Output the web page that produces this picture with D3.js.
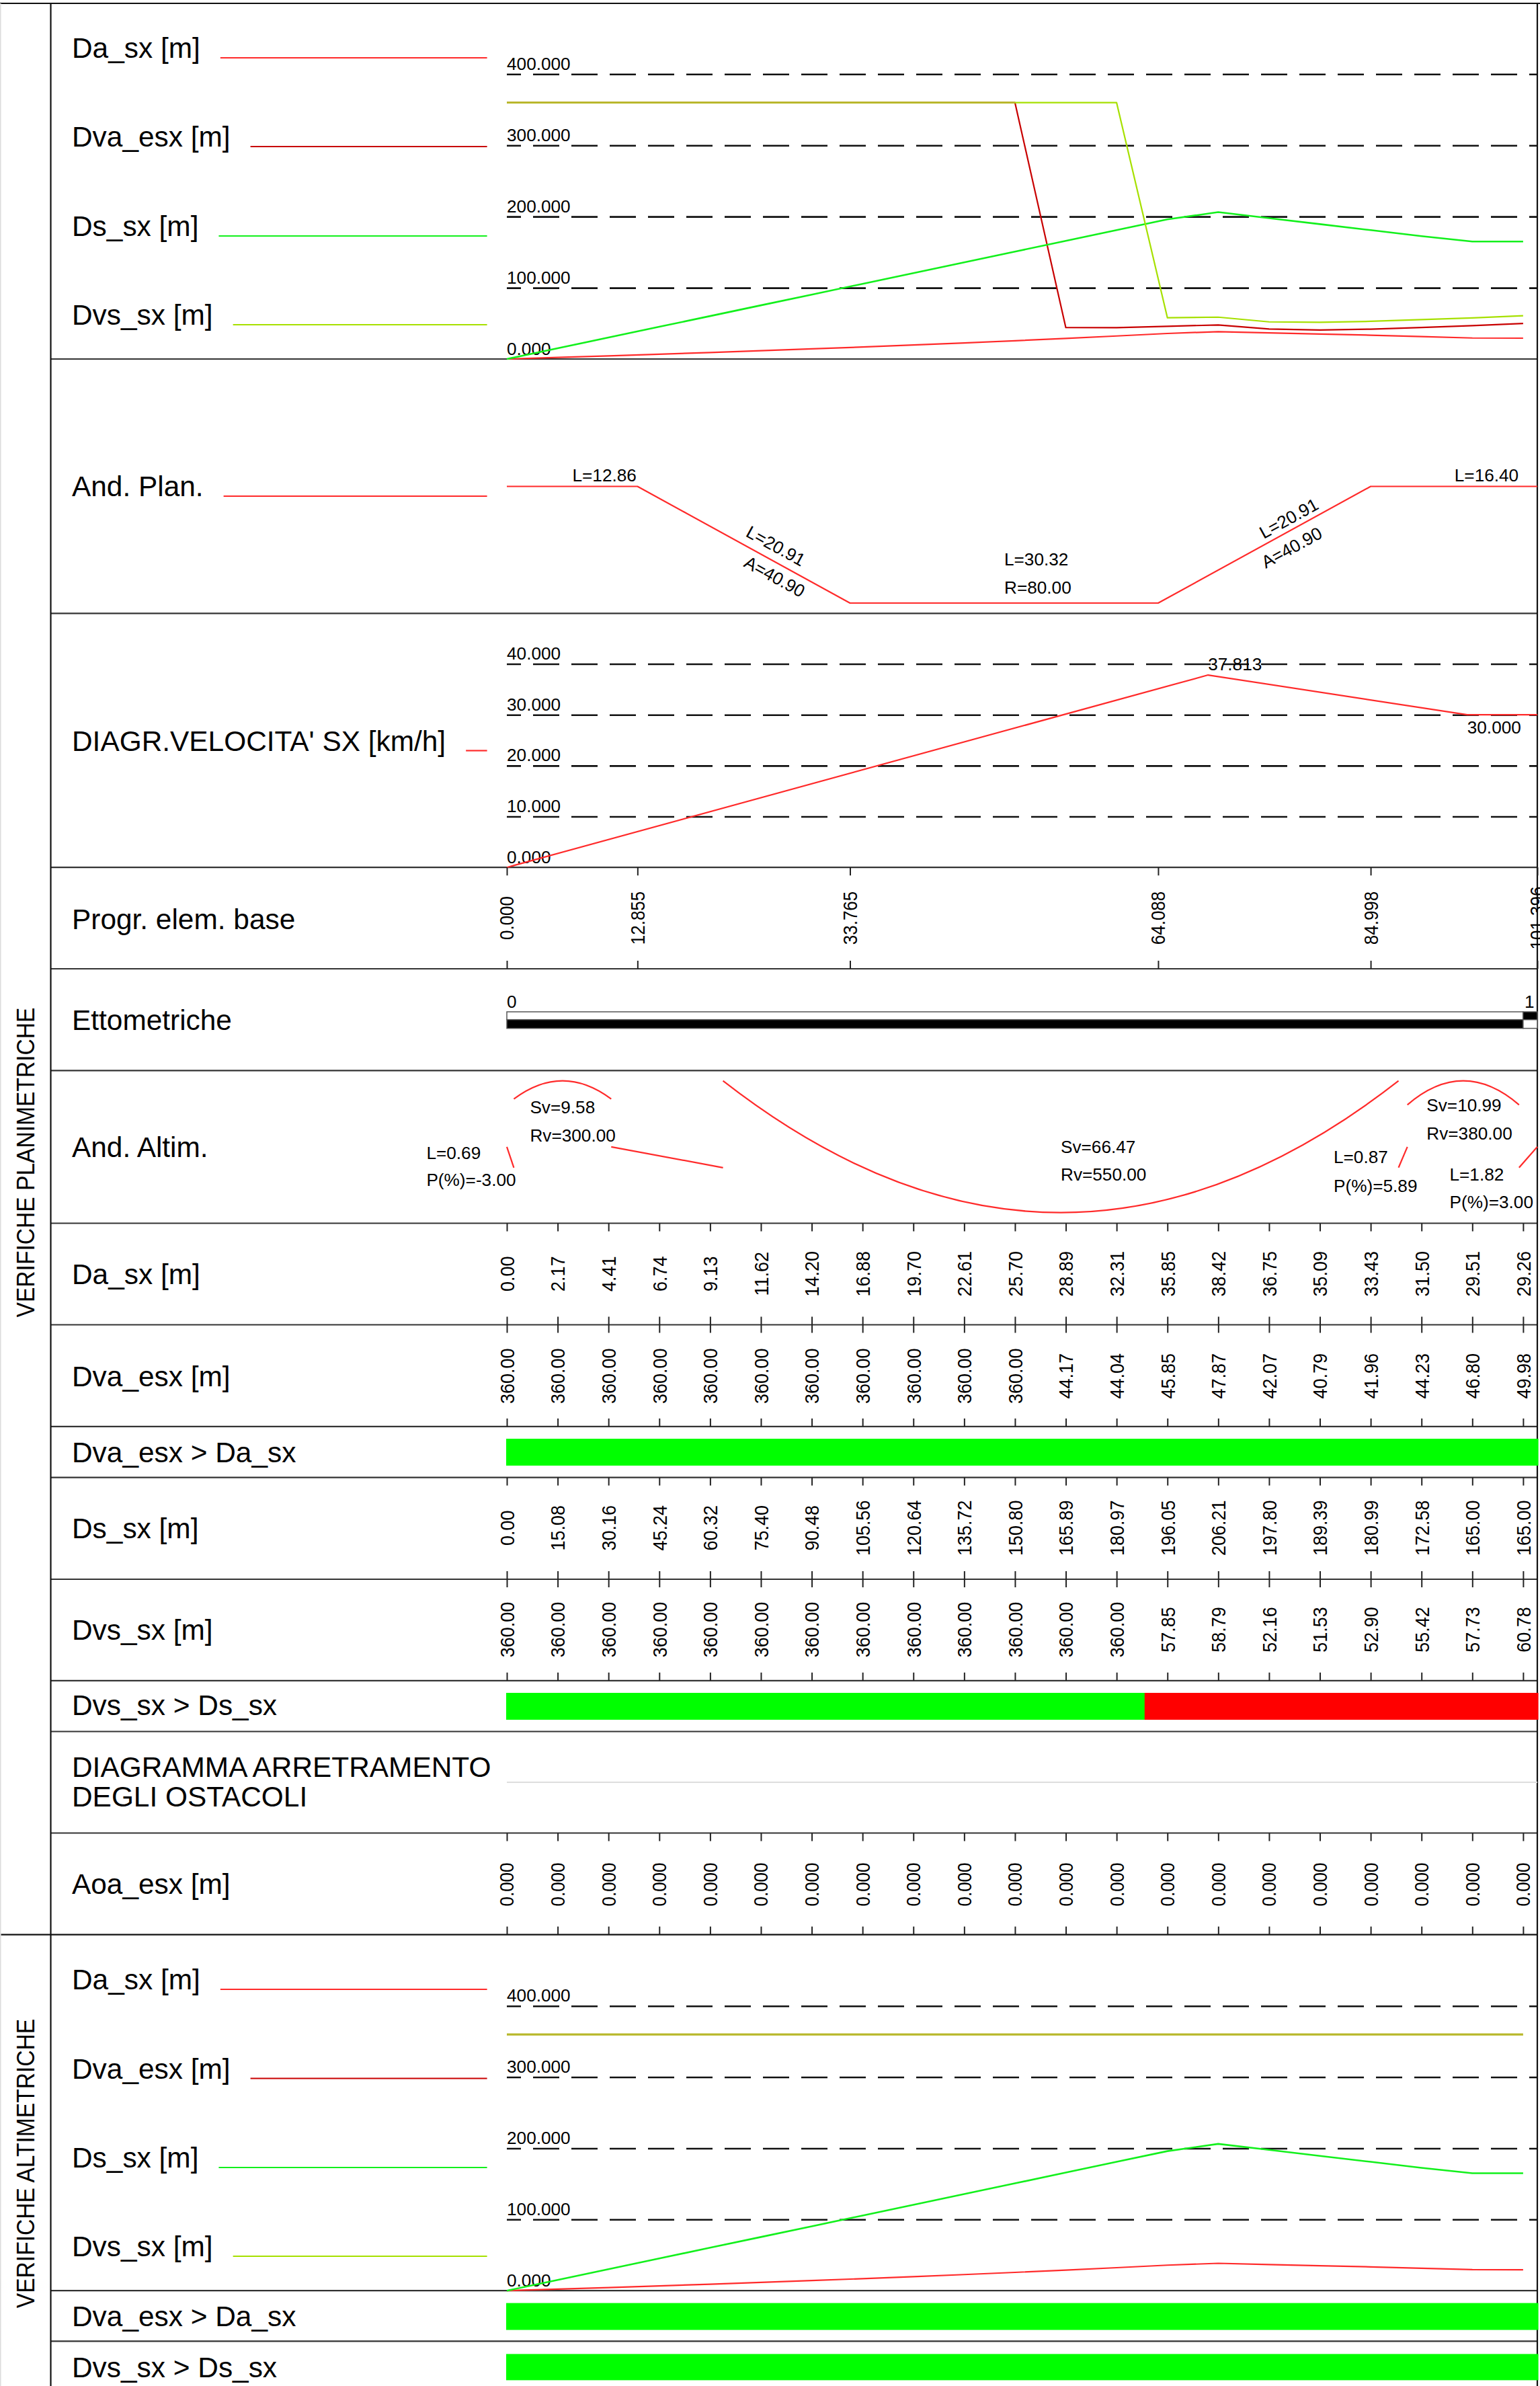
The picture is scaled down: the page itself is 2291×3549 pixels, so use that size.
<!DOCTYPE html>
<html>
<head>
<meta charset="utf-8">
<script src="https://cdn.jsdelivr.net/npm/d3@7"></script>
<style>
  html, body { margin: 0; padding: 0; background: #fff; }
  svg { display: block; }
  text { font-family: "Liberation Sans", Arial, sans-serif; fill: #000; }
</style>
</head>
<body>
<div id="chart"></div>
<script>
// stations sampled every 5 m
const stations = [0, 5, 10, 15, 20, 25, 30, 35, 40, 45, 50, 55, 60, 65, 70, 75, 80, 85, 90, 95, 100];
const daSx = [0.00, 2.17, 4.41, 6.74, 9.13, 11.62, 14.20, 16.88, 19.70, 22.61, 25.70, 28.89, 32.31, 35.85, 38.42, 36.75, 35.09, 33.43, 31.50, 29.51, 29.26];
const dvaEsx = [360, 360, 360, 360, 360, 360, 360, 360, 360, 360, 360, 44.17, 44.04, 45.85, 47.87, 42.07, 40.79, 41.96, 44.23, 46.80, 49.98];
const dsSx = [0.00, 15.08, 30.16, 45.24, 60.32, 75.40, 90.48, 105.56, 120.64, 135.72, 150.80, 165.89, 180.97, 196.05, 206.21, 197.80, 189.39, 180.99, 172.58, 165.00, 165.00];
const dvsSx = [360, 360, 360, 360, 360, 360, 360, 360, 360, 360, 360, 360, 360, 57.85, 58.79, 52.16, 51.53, 52.90, 55.42, 57.73, 60.78];
const aoaEsx = [0, 0, 0, 0, 0, 0, 0, 0, 0, 0, 0, 0, 0, 0, 0, 0, 0, 0, 0, 0, 0];
const altDvaEsx = [360, 360, 360, 360, 360, 360, 360, 360, 360, 360, 360, 360, 360, 360, 360, 360, 360, 360, 360, 360, 360];
const altDvsSx = [360, 360, 360, 360, 360, 360, 360, 360, 360, 360, 360, 360, 360, 360, 360, 360, 360, 360, 360, 360, 360];

const distTicks = [0, 100, 200, 300, 400];
const speedTicks = [0, 10, 20, 30, 40];

// element starts along the axis
const elemBase = [0, 12.855, 33.765, 64.088, 84.998, 101.396];
const planCurv = [0, 0, 12.5, 12.5, 0, 0]; // 1000/R
const speedProg = [0, 69, 94.5, 101.396];
const speedVal = [0, 37.813, 30, 30];
const hectoMarks = [0, 100];

// And. Altim. pieces: [from, to, level at start, level at end], levels 0-100 of the band
const altLines = [
  [0, 0.69, 49.9, 34.1],
  [10.27, 21.27, 49.9, 34.1],
  [87.74, 88.61, 34.1, 49.9],
  [99.6, 101.396, 34.1, 49.9]
];
// [from, to, level at ends, level at apex]
const altArcs = [
  [0.69, 10.27, 86.2, 100],
  [21.27, 87.74, 100, 0],
  [88.61, 99.6, 81.8, 100]
];

// verdict bars: [from, to, ok]
const checkPlanDva = [[0, 101.5, true]];
const checkPlanDvs = [[0, 62.82, true], [62.82, 101.5, false]];
const checkAltDva = [[0, 101.5, true]];
const checkAltDvs = [[0, 101.5, true]];

const W = 2291, H = 3549;
const left = 754, right = 2287, labelX = 107, legendEnd = 724.6;
const red = "#ff2a2a", darkRed = "#c80000", green = "#12f01c", lime = "#a6e000", olive = "#b8b82c";

const svg = d3.select("#chart").append("svg")
  .attr("width", W).attr("height", H).attr("viewBox", [0, 0, W, H]);

const x = d3.scaleLinear().domain([0, 101.396]).range([left, right]);

// ---- frame ----
const hRows = [534, 912.4, 1290.2, 1441, 1592.4, 1819.5, 1970.5, 2121.9, 2197.6, 2349, 2499.8, 2575.5, 2726.5, 3407.2, 3482.4];
svg.append("g").selectAll("line").data(hRows).join("line")
  .attr("x1", 75.5).attr("x2", right)
  .attr("y1", d => d).attr("y2", d => d)
  .attr("stroke", "#333").attr("stroke-width", 2.2);

const frame = [[0, W, 5, 5], [0, right, 2877.6, 2877.6], [75.5, 75.5, 5, H], [right, right, 5, H], [0.5, 0.5, 5, H]];
svg.append("g").selectAll("line").data(frame).join("line")
  .attr("x1", d => d[0]).attr("x2", d => d[1])
  .attr("y1", d => d[2]).attr("y2", d => d[3])
  .attr("stroke", (d, i) => i === 4 ? "#ddd" : "#111").attr("stroke-width", 2.2);

svg.append("line").attr("x1", left).attr("x2", right).attr("y1", 2651).attr("y2", 2651)
  .attr("stroke", "#dedede").attr("stroke-width", 2);

function sideTitle(txt, yc) {
  svg.append("text").attr("transform", `translate(51,${yc}) rotate(-90) scale(1,1.12)`)
    .attr("text-anchor", "middle").attr("font-size", 33.6).text(txt);
}
sideTitle("VERIFICHE PLANIMETRICHE", 1729);
sideTitle("VERIFICHE ALTIMETRICHE", 3218);

function rowLabel(txt, y, legend) {
  const t = svg.append("text").attr("x", labelX).attr("y", y).attr("font-size", 42.4).text(txt);
  if (legend) {
    svg.append("line")
      .attr("x1", labelX + t.node().getComputedTextLength() + 30).attr("x2", legendEnd)
      .attr("y1", y).attr("y2", y)
      .attr("stroke", legend).attr("stroke-width", 2.2);
  }
}

// ticks hanging off a row line, up (axisTop) or down (axisBottom)
function ticks(y, values, down) {
  const axis = (down ? d3.axisBottom(x) : d3.axisTop(x)).tickValues(values).tickSize(12).tickFormat("");
  const g = svg.append("g").attr("transform", `translate(0,${y})`).call(axis);
  g.select(".domain").remove();
  g.selectAll("line").attr("stroke", "#222").attr("stroke-width", 2);
}

function rotatedValues(ys, values, yc, digits, size) {
  svg.append("g").selectAll("text").data(values).join("text")
    .attr("transform", (d, i) => `translate(${x(ys[i])},${yc}) rotate(-90) scale(1,1.12)`)
    .attr("text-anchor", "middle").attr("dy", "0.36em")
    .attr("font-size", size || 27)
    .text(d => d.toFixed(digits));
}

function grid(yScale, values, digits) {
  const axis = d3.axisRight(yScale).tickValues(values).tickSize(right - left).tickFormat("");
  const g = svg.append("g").attr("transform", `translate(${left},0)`).call(axis);
  g.select(".domain").remove();
  g.selectAll("line").filter(d => d === 0).remove();
  g.selectAll("line")
    .attr("stroke", "#111").attr("stroke-width", 2.6)
    .attr("stroke-dasharray", "39 18").attr("stroke-dashoffset", 18);
  svg.append("g").selectAll("text").data(values).join("text")
    .attr("x", left).attr("y", d => yScale(d) - 6.5)
    .attr("font-size", 26.2).text(d => d.toFixed(digits));
}

function drawLine(xs, ys, yScale, color, width) {
  const line = d3.line().x(d => x(d[0])).y(d => yScale(d[1]));
  svg.append("path").datum(d3.zip(xs, ys)).attr("d", line)
    .attr("fill", "none").attr("stroke", color).attr("stroke-width", width || 2.2)
    .attr("stroke-linejoin", "round");
}

// stretch where both sight distances coincide reads as one olive line
function overlapLine(a, b, yScale, width) {
  const idx = stations.map((s, i) => i).filter(i => a[i] === b[i]);
  drawLine(idx.map(i => stations[i]), idx.map(i => a[i]), yScale, olive, width);
}

function checkBar(segs, y0, y1) {
  svg.append("g").selectAll("rect").data(segs).join("rect")
    .attr("x", d => x(d[0]) - 1).attr("width", d => x(d[1]) - x(d[0]) + 1)
    .attr("y", y0).attr("height", y1 - y0)
    .attr("fill", d => d[2] ? "#00ff00" : "#ff0000");
}

function freeText(txt, xp, yp, rot) {
  const t = svg.append("text").attr("font-size", 26.2).text(txt);
  if (rot) t.attr("transform", `translate(${xp},${yp}) rotate(${rot})`);
  else t.attr("x", xp).attr("y", yp);
}

// ---- row 1, planimetric sight distances ----
const yPlan = d3.scaleLinear().domain([0, 400]).range([534, 110.3]);
grid(yPlan, distTicks, 3);
rowLabel("Da_sx [m]", 86, red);
rowLabel("Dva_esx [m]", 218, darkRed);
rowLabel("Ds_sx [m]", 351, green);
rowLabel("Dvs_sx [m]", 483, lime);
drawLine(stations, daSx, yPlan, red);
drawLine(stations, dvaEsx, yPlan, darkRed);
drawLine(stations, dsSx, yPlan, green, 2.6);
drawLine(stations, dvsSx, yPlan, lime);
overlapLine(dvaEsx, dvsSx, yPlan, 2.4);

// ---- And. Plan. ----
const yCurv = d3.scaleLinear().domain([0, 12.5]).range([723.5, 897]);
rowLabel("And. Plan.", 738, red);
drawLine(elemBase, planCurv, yCurv, red);
freeText("L=12.86", 851.5, 716.4);
freeText("L=16.40", 2163.8, 716.4);
freeText("L=30.32", 1494, 840.8);
freeText("R=80.00", 1494, 883);
freeText("L=20.91", 1108, 797, 28.8);
freeText("A=40.90", 1105, 842, 28.8);
freeText("L=20.91", 1880, 802, -28.8);
freeText("A=40.90", 1883, 846, -28.8);

// ---- speed diagram ----
const ySpeed = d3.scaleLinear().domain([0, 40]).range([1290.2, 987.5]);
grid(ySpeed, speedTicks, 3);
rowLabel("DIAGR.VELOCITA' SX [km/h]", 1116.5, red);
drawLine(speedProg, speedVal, ySpeed, red);
freeText(speedVal[1].toFixed(3), x(speedProg[1]), 997);
freeText(speedVal[2].toFixed(3), x(speedProg[2]), 1090.7);

// ---- Progr. elem. base ----
rowLabel("Progr. elem. base", 1381.5);
ticks(1290.2, elemBase, true);
ticks(1441, elemBase, false);
rotatedValues(elemBase, elemBase, 1365.5, 3, 26);

// ---- Ettometriche ----
rowLabel("Ettometriche", 1532);
const hectoBands = [[0, 100, "#fff", "#000"], [100, 101.396, "#000", "#fff"]];
hectoBands.forEach(b => {
  svg.append("rect").attr("x", x(b[0])).attr("width", x(b[1]) - x(b[0]))
    .attr("y", 1505).attr("height", 11.7).attr("fill", b[2]).attr("stroke", "#555").attr("stroke-width", 1.5);
  svg.append("rect").attr("x", x(b[0])).attr("width", x(b[1]) - x(b[0]))
    .attr("y", 1516.7).attr("height", 12.9).attr("fill", b[3]).attr("stroke", "#555").attr("stroke-width", 1.5);
});
svg.append("g").selectAll("text").data(hectoMarks).join("text")
  .attr("x", d => x(d) + (d ? 2 : 0)).attr("y", 1499).attr("font-size", 26.2)
  .text(d => d / 100);

// ---- And. Altim. ----
const yAlt = d3.scaleLinear().domain([0, 100]).range([1803.6, 1607.7]);
rowLabel("And. Altim.", 1721);
altLines.forEach(s => drawLine(s.slice(0, 2), s.slice(2), yAlt, red));
altArcs.forEach(a => {
  const p = d3.path();
  const apexCtrl = 2 * yAlt(a[3]) - yAlt(a[2]);
  p.moveTo(x(a[0]), yAlt(a[2]));
  p.quadraticCurveTo((x(a[0]) + x(a[1])) / 2, apexCtrl, x(a[1]), yAlt(a[2]));
  svg.append("path").attr("d", p).attr("fill", "none").attr("stroke", red).attr("stroke-width", 2.2);
});
freeText("Sv=9.58", 788.4, 1655.8);
freeText("Rv=300.00", 788.4, 1697.5);
freeText("L=0.69", 634.4, 1723.8);
freeText("P(%)=-3.00", 634.4, 1764.3);
freeText("Sv=66.47", 1578, 1714.5);
freeText("Rv=550.00", 1578, 1755.5);
freeText("L=0.87", 1984, 1730.3);
freeText("P(%)=5.89", 1984, 1772.6);
freeText("Sv=10.99", 2122.3, 1652.9);
freeText("Rv=380.00", 2122.3, 1694.5);
freeText("L=1.82", 2156.5, 1755.5);
freeText("P(%)=3.00", 2156.5, 1797.2);

// ---- value rows ----
rowLabel("Da_sx [m]", 1910);
ticks(1819.5, stations, true);
ticks(1970.5, stations, false);
rotatedValues(stations, daSx, 1894.8, 2);

rowLabel("Dva_esx [m]", 2061.5);
ticks(1970.5, stations, true);
ticks(2121.9, stations, false);
rotatedValues(stations, dvaEsx, 2046.8, 2);

rowLabel("Dva_esx > Da_sx", 2175);
checkBar(checkPlanDva, 2140, 2180);

rowLabel("Ds_sx [m]", 2288);
ticks(2197.6, stations, true);
ticks(2349, stations, false);
rotatedValues(stations, dsSx, 2272.7, 2);

rowLabel("Dvs_sx [m]", 2439);
ticks(2349, stations, true);
ticks(2499.8, stations, false);
rotatedValues(stations, dvsSx, 2424, 2);

rowLabel("Dvs_sx > Ds_sx", 2551);
checkBar(checkPlanDvs, 2518, 2558);

rowLabel("DIAGRAMMA ARRETRAMENTO", 2643);
rowLabel("DEGLI OSTACOLI", 2687);

rowLabel("Aoa_esx [m]", 2817);
ticks(2726.5, stations, true);
ticks(2877.6, stations, false);
rotatedValues(stations, aoaEsx, 2803, 3, 26);

// ---- altimetric sight distances ----
const yAltDist = d3.scaleLinear().domain([0, 400]).range([3407.2, 2983.7]);
grid(yAltDist, distTicks, 3);
rowLabel("Da_sx [m]", 2959, red);
rowLabel("Dva_esx [m]", 3091.5, darkRed);
rowLabel("Ds_sx [m]", 3224, green);
rowLabel("Dvs_sx [m]", 3356, lime);
drawLine(stations, daSx, yAltDist, red);
drawLine(stations, dsSx, yAltDist, green, 2.6);
overlapLine(altDvaEsx, altDvsSx, yAltDist, 3.2);

rowLabel("Dva_esx > Da_sx", 3460);
checkBar(checkAltDva, 3425.6, 3465.6);
rowLabel("Dvs_sx > Ds_sx", 3535.5);
checkBar(checkAltDvs, 3501.4, 3540.4);
</script>
</body>
</html>
